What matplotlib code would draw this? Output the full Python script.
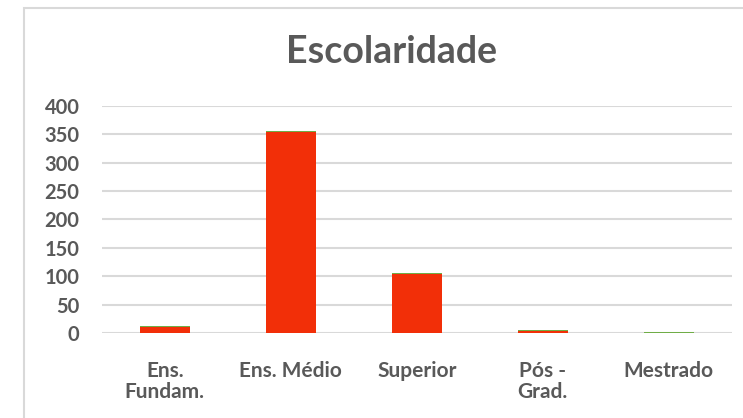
import matplotlib.pyplot as plt
import matplotlib.patches as patches
import numpy as np

# dados
categorias = ['Ens.\nFundam.', 'Ens. Médio', 'Superior', 'Pós -\nGrad.', 'Mestrado']
serie1 = [10, 353, 103, 3, 0]
serie2 = [2, 2, 2, 2, 2]
yticks = [0, 50, 100, 150, 200, 250, 300, 350, 400]

cinza = '#595959'
plt.rcParams['font.family'] = ['Lato', 'DejaVu Sans']
plt.rcParams['font.weight'] = 'bold'

fig = plt.figure(figsize=(7.43, 4.18), dpi=100)
ax = fig.add_axes([0.137, 0.2033, 0.848, 0.5438])

x = np.arange(len(categorias))
ax.bar(x, serie1, width=0.4, color='#F22F08', zorder=3)
ax.bar(x, serie2, width=0.4, bottom=serie1, color='#70AD47', zorder=3)

ax.set_xlim(-0.5, len(categorias) - 0.5)
ax.set_ylim(0, 400)
ax.set_yticks(yticks)
ax.set_xticks(x)
ax.set_xticklabels(categorias, linespacing=1.1)
ax.grid(axis='y', color='#d9d9d9', linewidth=1.5, zorder=0)
ax.tick_params(axis='y', length=0, pad=16, labelsize=14.5, labelcolor=cinza)
ax.tick_params(axis='x', length=0, pad=20, labelsize=15, labelcolor=cinza)
for s in ax.spines.values():
    s.set_visible(False)

fig.text(0.527, 0.876, 'Escolaridade', ha='center', va='center',
         fontsize=27, fontweight='bold', color=cinza)

# moldura do grafico
fig.patches.append(patches.Rectangle((0.0323, -0.1), 1.2, 1.081,
                                     transform=fig.transFigure, fill=False,
                                     edgecolor='#d9d9d9', linewidth=1.5))

fig.savefig('out.png', dpi=100)
